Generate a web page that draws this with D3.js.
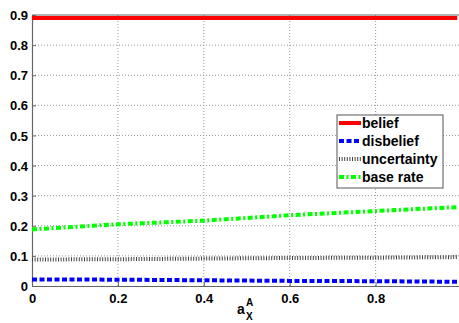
<!DOCTYPE html>
<html>
<head>
<meta charset="utf-8">
<script src="https://cdn.jsdelivr.net/npm/d3@7"></script>
<style>
  html, body { margin: 0; padding: 0; background: #fff; }
  svg { display: block; }
  text { font-family: "Liberation Sans", Arial, Helvetica, sans-serif; }
</style>
</head>
<body>
<svg id="chart" width="459" height="323"></svg>
<script>
// Opinion components as a function of the base rate a_X^A
const xValues      = [0, 0.2, 0.4, 0.6, 0.8, 0.99];
const belief       = [0.89, 0.89, 0.89, 0.89, 0.89, 0.89];
const disbelief    = [0.022, 0.021, 0.019, 0.017, 0.016, 0.014];
const uncertainty  = [0.088, 0.089, 0.091, 0.093, 0.094, 0.096];
const baseRate     = [0.188, 0.205, 0.217, 0.235, 0.249, 0.262];
const seriesNames  = ["belief", "disbelief", "uncertainty", "base rate"];
const xTicks       = [0, 0.2, 0.4, 0.6, 0.8];
const yTicks       = [0, 0.1, 0.2, 0.3, 0.4, 0.5, 0.6, 0.7, 0.8, 0.9];

const svg = d3.select("#chart");
const plotLeft = 32, plotRight = 461.5, plotTop = 15, plotBottom = 286;

const x = d3.scaleLinear().domain([0, 1]).range([plotLeft, plotRight]);
const y = d3.scaleLinear().domain([0, 0.9]).range([plotBottom, plotTop]);

const tickFmt = d => d === 0 ? "0" : d3.format(".1f")(d);

// dotted grid
const grid = svg.append("g");
grid.selectAll("line.gx").data(xTicks.filter(d => d > 0)).join("line")
  .attr("x1", d => x(d)).attr("x2", d => x(d))
  .attr("y1", plotTop).attr("y2", plotBottom)
  .attr("stroke", "#999").attr("stroke-width", 1).attr("stroke-dasharray", "1,2");
grid.selectAll("line.gy").data(yTicks.filter(d => d > 0 && d < 0.9)).join("line")
  .attr("x1", plotLeft).attr("x2", plotRight)
  .attr("y1", d => y(d)).attr("y2", d => y(d))
  .attr("stroke", "#999").attr("stroke-width", 1).attr("stroke-dasharray", "1,2");

// axes
const xAxis = d3.axisBottom(x).tickValues(xTicks).tickFormat(tickFmt).tickSizeInner(-4).tickSizeOuter(0).tickPadding(8);
const yAxis = d3.axisLeft(y).tickValues(yTicks).tickFormat(tickFmt).tickSizeInner(-4).tickSizeOuter(0).tickPadding(4);

const gx = svg.append("g").attr("transform", `translate(0,${plotBottom})`).call(xAxis);
const gy = svg.append("g").attr("transform", `translate(${plotLeft},0)`).call(yAxis);
[gx, gy].forEach(g => {
  g.select(".domain").attr("stroke", "#666").attr("stroke-width", 1.2);
  g.selectAll(".tick line").attr("stroke", "#666");
  g.selectAll(".tick text").attr("fill", "#000").style("font-size", "13px")
    .style("font-family", "'Liberation Sans', Arial, sans-serif").style("font-weight", "bold");
});
gy.selectAll(".tick text").attr("dy", "0.35em");

// top border of the box
svg.append("line").attr("x1", plotLeft).attr("x2", plotRight).attr("y1", plotTop).attr("y2", plotTop)
  .attr("stroke", "#666").attr("stroke-width", 1.2);

const styles = [
  { color: "#ff0000", dash: null,          width: 4 },
  { color: "#0000ff", dash: "5,2.5",       width: 4 },
  { color: "#444444", dash: "1,1.6",       width: 4 },
  { color: "#00ff00", dash: "5,2.5,2,2.5", width: 4 }
];
const seriesData = [belief, disbelief, uncertainty, baseRate];

const line = d3.line().x(d => x(d[0])).y(d => y(d[1]));
seriesData.forEach((vals, i) => {
  const pts = xValues.map((xv, j) => [xv, vals[j]]);
  svg.append("path").datum(pts)
    .attr("d", line)
    .attr("fill", "none")
    .attr("stroke", styles[i].color)
    .attr("stroke-width", styles[i].width)
    .attr("stroke-dasharray", styles[i].dash);
});

// x-axis label a_X^A
svg.append("text").attr("x", 237).attr("y", 314)
  .style("font-size", "14px").style("font-weight", "bold").attr("fill", "#000").text("a");
svg.append("text").attr("x", 246).attr("y", 306).style("font-size", "10px").style("font-weight", "bold").text("A");
svg.append("text").attr("x", 246).attr("y", 320).style("font-size", "10px").style("font-weight", "bold").text("X");

// legend
const lg = svg.append("g");
lg.append("rect").attr("x", 337).attr("y", 115).attr("width", 106).attr("height", 73)
  .attr("fill", "#fff").attr("stroke", "#555").attr("stroke-width", 1);
seriesNames.forEach((name, i) => {
  const cy = 123 + i * 18;
  lg.append("line").attr("x1", 339).attr("x2", 361).attr("y1", cy).attr("y2", cy)
    .attr("stroke", styles[i].color).attr("stroke-width", styles[i].width)
    .attr("stroke-dasharray", styles[i].dash);
  lg.append("text").attr("x", 362).attr("y", cy).attr("dy", "0.35em")
    .style("font-size", "14px").style("font-weight", "bold").attr("fill", "#000").text(name);
});
</script>
</body>
</html>
